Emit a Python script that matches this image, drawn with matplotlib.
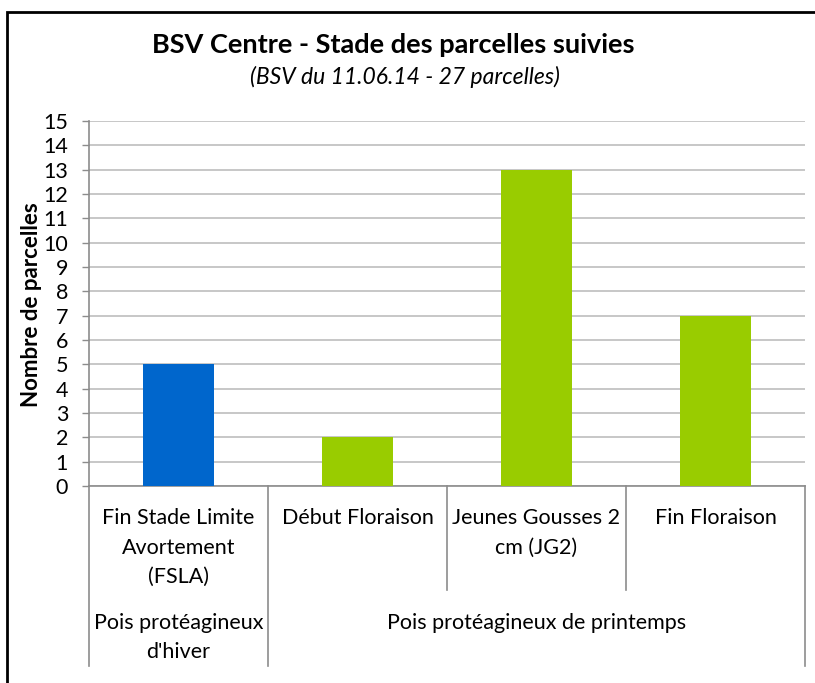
import numpy as np
import matplotlib.pyplot as plt
from matplotlib.patches import Rectangle
import matplotlib.transforms as mtransforms

plt.rcParams['font.family'] = ['Lato', 'DejaVu Sans']

# data
stages = ["Fin Stade Limite\nAvortement\n(FSLA)", "Début Floraison",
          "Jeunes Gousses 2\ncm (JG2)", "Fin Floraison"]
groups = ["Pois protéagineux\nd'hiver", "Pois protéagineux de printemps"]
group_sizes = [1, 3]
counts = [5, 2, 13, 7]
bar_colors = ["#0066CC", "#99CC00", "#99CC00", "#99CC00"]

W, H = 815, 683
fig = plt.figure(figsize=(W / 100, H / 100), dpi=100)

# plot area in pixels
x0, x1, y_top, y_bot = 89, 805, 121, 486
ax = fig.add_axes([x0 / W, 1 - y_bot / H, (x1 - x0) / W, (y_bot - y_top) / H])

def ax_frac(py):
    """pixel row below axis -> axes fraction"""
    return (y_bot - py) / (y_bot - y_top)

FS = 15.5
LINE = 29.5  # px between label lines

x = np.arange(len(counts))
ax.bar(x, counts, width=0.40, color=bar_colors, zorder=3)

ax.set_xlim(-0.5, len(counts) - 0.5)
ax.set_ylim(0, 15)
ax.set_yticks(range(0, 16))
ax.yaxis.grid(True, color="#BDBDBD", lw=1.2, zorder=0)
ax.set_xticks([])
ax.tick_params(axis="y", length=5, width=1, color="#8C8C8C", labelsize=FS, pad=10)
for s in ["top", "right"]:
    ax.spines[s].set_visible(False)
for s in ["left", "bottom"]:
    ax.spines[s].set_color("#8C8C8C")
    ax.spines[s].set_linewidth(1.2)

trans = mtransforms.blended_transform_factory(ax.transData, ax.transAxes)

# category separators
inner_bottom = ax_frac(590)
group_bottom = ax_frac(666)
bounds = np.cumsum([0] + group_sizes) - 0.5
for b in np.arange(-0.5, len(counts)):
    yb = group_bottom if b in bounds else inner_bottom
    ax.plot([b, b], [0, yb], color="#8C8C8C", lw=1.2, transform=trans, clip_on=False)

def put_lines(xc, first_py, label):
    for k, line in enumerate(label.split("\n")):
        ax.text(xc, ax_frac(first_py + k * LINE), line, ha="center",
                va="center", fontsize=FS, transform=trans)

# category labels
for i, lab in enumerate(stages):
    put_lines(i, 518, lab)

# group labels
for g, lab in enumerate(groups):
    put_lines((bounds[g] + bounds[g + 1]) / 2, 623, lab)

fig.text(32 / W, 1 - 305 / H, "Nombre de parcelles", rotation=90, ha="center",
         va="center", fontsize=16, fontweight="bold")

fig.text(393 / W, 1 - 45 / H, "BSV Centre - Stade des parcelles suivies",
         ha="center", va="center", fontsize=19.5, fontweight="bold")
fig.text(405 / W, 1 - 77 / H, "(BSV du 11.06.14 - 27 parcelles)",
         ha="center", va="center", fontsize=16.5, fontstyle="italic")

# outer frame
fig.patches.append(Rectangle((7 / W, -0.1), 2, 1.1 - 12 / H, transform=fig.transFigure,
                             fill=False, edgecolor="black", lw=2))

fig.savefig("out.png", dpi=100)
